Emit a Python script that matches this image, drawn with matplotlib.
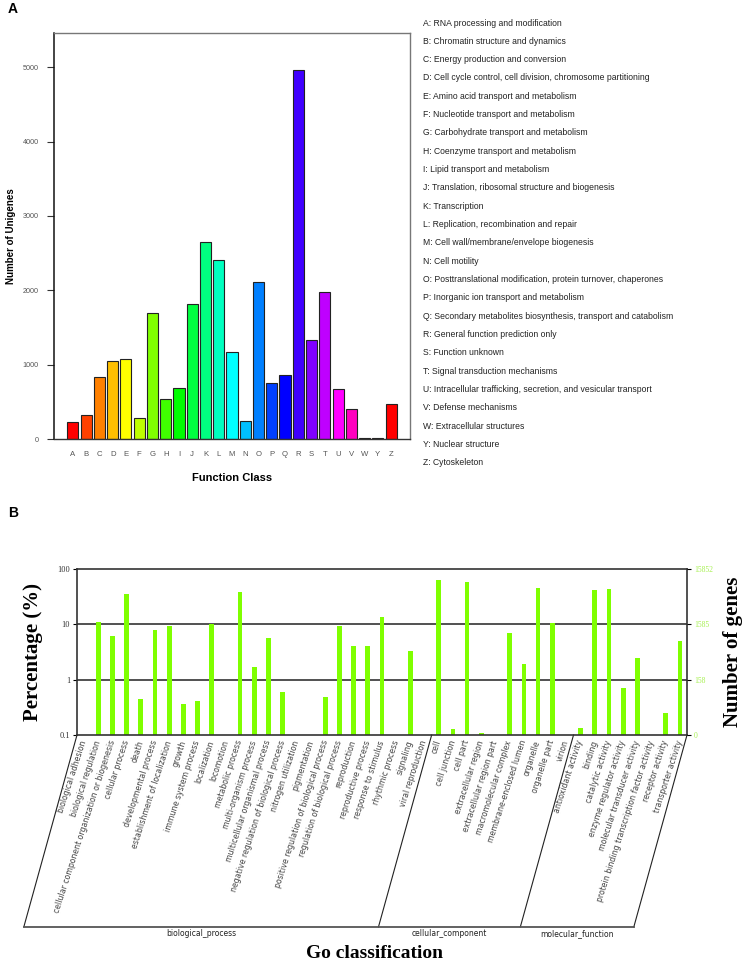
import numpy as np
import matplotlib
matplotlib.use("Agg")
import matplotlib.pyplot as plt
from matplotlib.colors import hsv_to_rgb

# ---------------- Panel A data ----------------
cog_letters = list("ABCDEFGHIJKLMNOPQRSTUVWYZ")
cog_values = [228, 323, 838, 1053, 1080, 278, 1694, 542, 686, 1815, 2648, 2401,
              1169, 246, 2106, 748, 865, 4969, 1335, 1980, 676, 403, 8, 14, 466]
cog_desc = [
    "A: RNA processing and modification",
    "B: Chromatin structure and dynamics",
    "C: Energy production and conversion",
    "D: Cell cycle control, cell division, chromosome partitioning",
    "E: Amino acid transport and metabolism",
    "F: Nucleotide transport and metabolism",
    "G: Carbohydrate transport and metabolism",
    "H: Coenzyme transport and metabolism",
    "I: Lipid transport and metabolism",
    "J: Translation, ribosomal structure and biogenesis",
    "K: Transcription",
    "L: Replication, recombination and repair",
    "M: Cell wall/membrane/envelope biogenesis",
    "N: Cell motility",
    "O: Posttranslational modification, protein turnover, chaperones",
    "P: Inorganic ion transport and metabolism",
    "Q: Secondary metabolites biosynthesis, transport and catabolism",
    "R: General function prediction only",
    "S: Function unknown",
    "T: Signal transduction mechanisms",
    "U: Intracellular trafficking, secretion, and vesicular transport",
    "V: Defense mechanisms",
    "W: Extracellular structures",
    "Y: Nuclear structure",
    "Z: Cytoskeleton",
]
cog_yticks = [0, 1000, 2000, 3000, 4000, 5000]

# ---------------- Panel B data ----------------
go_terms = [
    "biological adhesion", "biological regulation",
    "cellular component organization or biogenesis", "cellular process", "death",
    "developmental process", "establishment of localization", "growth",
    "immune system process", "localization", "locomotion", "metabolic process",
    "multi-organism process", "multicellular organismal process",
    "negative regulation of biological process", "nitrogen utilization",
    "pigmentation", "positive regulation of biological process",
    "regulation of biological process", "reproduction", "reproductive process",
    "response to stimulus", "rhythmic process", "signaling", "viral reproduction",
    "cell", "cell junction", "cell part", "extracellular region",
    "extracellular region part", "macromolecular complex",
    "membrane-enclosed lumen", "organelle", "organelle part", "virion",
    "antioxidant activity", "binding", "catalytic activity",
    "enzyme regulator activity", "molecular transducer activity",
    "protein binding transcription factor activity", "receptor activity",
    "transporter activity",
]
go_percent = [0, 11.0, 6.1, 35.9, 0.45, 7.8, 9.3, 0.36, 0.42, 10.3, 0, 37.9,
              1.69, 5.65, 0.61, 0, 0, 0.48, 9.2, 4.1, 4.0, 13.4, 0, 3.25, 0,
              64, 0.13, 58, 0.107, 0, 7.1, 1.95, 45, 10.7, 0,
              0.134, 41, 44, 0.70, 2.5, 0, 0.25, 5.1]
go_groups = ["biological_process", "cellular_component", "molecular_function"]
go_group_sizes = [25, 10, 8]
pct_ticks = [0.1, 1, 10, 100]
pct_ticklabels = ["0.1", "1", "10", "100"]
gene_ticklabels = ["0", "158", "1585", "15852"]

# ---------------- Figure ----------------
W, H = 750, 965
fig = plt.figure(figsize=(W / 100, H / 100), dpi=100)

def fx(px):
    return px / W

def fy(py):
    return 1 - py / H

# Panel A
axA = fig.add_axes([fx(54), fy(439), fx(410) - fx(54), fy(33) - fy(439)])
n = len(cog_letters)
cols = [hsv_to_rgb([(i % 24) / 24.0, 1.0, 1.0]) for i in range(n)]
xA = np.arange(n)
axA.bar(xA, cog_values, width=0.833, color=cols, edgecolor="#222222", linewidth=0.8)
axA.set_xlim(-1.43, n - 1 + 1.43)
axA.set_ylim(0, 5460)
axA.set_xticks(xA)
axA.set_xticklabels(cog_letters, fontsize=5.6, color="#555555", family="Liberation Sans")
axA.tick_params(axis="x", length=0, pad=9)
axA.set_yticks(cog_yticks)
axA.set_yticklabels([str(v) for v in cog_yticks], fontsize=5.2, color="#555555",
                    family="Liberation Sans")
axA.tick_params(axis="y", length=5, width=0.8, pad=6, color="#333333")
for s in ["top", "right"]:
    axA.spines[s].set_color("#777777")
    axA.spines[s].set_linewidth(1.0)
axA.spines["left"].set_color("#111111")
axA.spines["left"].set_linewidth(1.1)
axA.spines["bottom"].set_color("#333333")
axA.spines["bottom"].set_linewidth(1.0)
fig.text(fx(11), fy(236), "Number of Unigenes", fontsize=7, fontweight="bold",
         family="Liberation Sans", rotation=90, ha="center", va="center")
fig.text(fx(232), fy(478), "Function Class", fontsize=8, fontweight="bold",
         family="Liberation Sans", ha="center", va="center")

for i, t in enumerate(cog_desc):
    fig.text(fx(423), fy(23 + i * 18.33), t, fontsize=6.2, color="#222222",
             family="Liberation Sans", va="center", ha="left")

fig.text(fx(8), fy(9), "A", fontsize=10, fontweight="bold", family="Liberation Sans",
         va="center", ha="left")
fig.text(fx(8), fy(513), "B", fontsize=10, fontweight="bold", family="Liberation Sans",
         va="center", ha="left")

# Panel B
axB = fig.add_axes([fx(77), fy(735), fx(687) - fx(77), fy(569) - fy(735)])
m = len(go_terms)
xB = np.arange(m)
vals = np.array(go_percent, dtype=float)
mask = vals > 0.1
axB.bar(xB[mask], vals[mask] - 0.1, bottom=0.1, width=0.33, color="#7FFF00",
        edgecolor="none")
axB.set_yscale("log")
axB.set_ylim(0.1, 100)
axB.set_xlim(-0.5, m - 0.5)
axB.set_yticks(pct_ticks)
axB.set_yticklabels(pct_ticklabels, fontsize=6, family="Liberation Serif", color="#333333")
axB.yaxis.set_minor_locator(matplotlib.ticker.NullLocator())
axB.tick_params(axis="y", length=3, width=0.8, pad=2)
for yv in [1, 10]:
    axB.axhline(yv, color="#333333", linewidth=1.2, zorder=0.5)
for s in axB.spines.values():
    s.set_color("#333333")
    s.set_linewidth(1.2)
axB.set_xticks(xB)
axB.set_xticklabels(go_terms, rotation=72, ha="right", va="center",
                    rotation_mode="anchor", fontsize=5.6, color="#444444",
                    family="DejaVu Sans")
axB.tick_params(axis="x", length=0, pad=4)

axR = axB.twinx()
axR.set_yscale("log")
axR.set_ylim(0.1, 100)
axR.set_yticks(pct_ticks)
axR.set_yticklabels(gene_ticklabels, fontsize=5.5, family="Liberation Serif",
                    color="#A6F050")
axR.yaxis.set_minor_locator(matplotlib.ticker.NullLocator())
axR.tick_params(axis="y", length=3, width=0.8, pad=2)
for s in axR.spines.values():
    s.set_visible(False)

fig.text(fx(33), fy(652), "Percentage (%)", fontsize=15, fontweight="bold",
         family="Liberation Serif", rotation=90, ha="center", va="center")
fig.text(fx(733), fy(652), "Number of genes", fontsize=15, fontweight="bold",
         family="Liberation Serif", rotation=90, ha="center", va="center")

# group brackets
tr = axB.get_xaxis_transform()
ybot = -(927 - 735) / 166.0
shift = -3.75
bounds = [-0.5]
acc = -0.5
for g in go_group_sizes:
    acc += g
    bounds.append(acc)
for b in bounds:
    axB.plot([b, b + shift], [0, ybot], transform=tr, color="#222222",
             linewidth=0.8, clip_on=False)
axB.plot([bounds[0] + shift, bounds[-1] + shift], [ybot, ybot], transform=tr,
         color="#555555", linewidth=1.3, clip_on=False)
for i, g in enumerate(go_groups):
    cx = (bounds[i] + bounds[i + 1]) / 2 + shift
    axB.text(cx, ybot - 0.015, g, transform=tr, ha="center", va="top",
             fontsize=5.5, color="#222222",
             family=["Liberation Sans Narrow", "DejaVu Sans"])

fig.text(fx(375), fy(953), "Go classification", fontsize=14, fontweight="bold",
         family="Liberation Serif", ha="center", va="center")

fig.savefig("out.png", dpi=100, facecolor="white")
